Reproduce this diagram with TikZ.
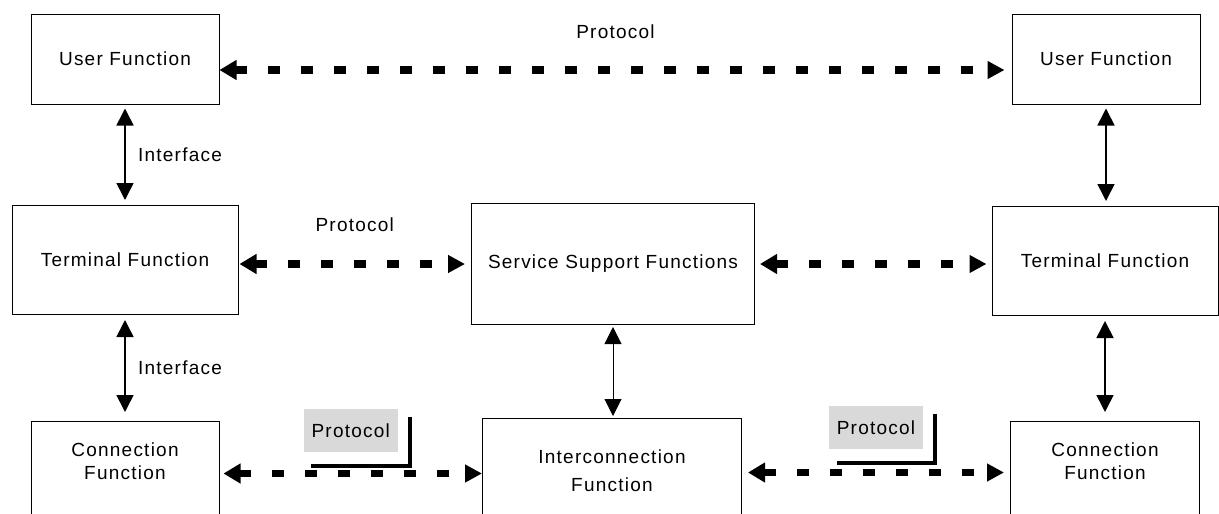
\documentclass[tikz,border=0pt]{standalone}
\usepackage{fontspec}
\setmainfont{Liberation Sans}[LetterSpace=6.5]
\usetikzlibrary{arrows.meta}
\definecolor{labelgray}{gray}{0.85}

\begin{document}
\begin{tikzpicture}[x=1pt,y=-1pt,
    font=\fontsize{19}{23}\selectfont,
    fnbox/.style={draw,line width=1pt,inner sep=0pt,align=center},
    protolink/.style={{Triangle[length=17pt,width=19pt]}-{Triangle[length=17pt,width=17pt]},line width=7.5pt,dash pattern=on 12pt off 21pt},
    iface/.style={{Triangle[length=17pt,width=17pt]}-{Triangle[length=17pt,width=17pt]},line width=1.6pt},
    protobox/.style={fill=labelgray,minimum width=94pt,minimum height=43pt,inner sep=0pt}]
  \useasboundingbox (0,0) rectangle (1219,514);
  \clip (0,0) rectangle (1219,514);

  % function blocks
  \node[fnbox,minimum width=188pt,minimum height=90pt] (ufl) at (125,59) {User Function};
  \node[fnbox,minimum width=188pt,minimum height=90pt] (ufr) at (1106,59) {User Function};
  \node[fnbox,minimum width=226pt,minimum height=109pt] (tfl) at (125,260) {Terminal Function};
  \node[fnbox,minimum width=283pt,minimum height=121pt] (ssf) at (613,264) {Service Support Functions};
  \node[fnbox,minimum width=226pt,minimum height=109pt] (tfr) at (1105,261) {Terminal Function};
  % bottom row runs past the lower edge
  \node[fnbox,minimum width=188pt,minimum height=140pt,anchor=north] (cfl) at (125,421) {};
  \node[fnbox,minimum width=259pt,minimum height=140pt,anchor=north] (icf) at (612,418) {};
  \node[fnbox,minimum width=189pt,minimum height=140pt,anchor=north] (cfr) at (1105,421) {};
  \node[align=center] (cfltxt) at ([yshift=-40pt]cfl.north) {Connection\\Function};
  \node[align=center] (icftxt) at ([yshift=-53pt]icf.north) {Interconnection\\[5pt]Function};
  \node[align=center] (cfrtxt) at ([yshift=-40pt]cfr.north) {Connection\\Function};

  % interfaces
  \draw[iface,shorten <=4pt,shorten >=5pt] (ufl) -- node[right=9pt] (ifu) {Interface} (tfl);
  \draw[iface,shorten <=5pt,shorten >=9pt] (tfl) -- node[right=9pt] (ifc) {Interface} (cfl);
  \draw[iface,shorten <=4pt,shorten >=5pt] (ufr.south) -- (ufr.south |- tfr.north);
  \draw[iface,shorten <=5pt,shorten >=9pt] (tfr.south) -- (tfr.south |- cfr.north);
  \draw[iface,line width=1pt,shorten <=2pt,shorten >=2pt] (ssf.south) -- (ssf.south |- icf.north);

  % protocols
  \coordinate (pu) at ([yshift=-11pt]ufl.east);
  \draw[protolink,shorten >=7pt] (pu) -- node[above=24pt] (ptop) {Protocol} (pu -| ufr.west);
  \draw[protolink,shorten <=1pt,shorten >=6pt] (tfl.east |- ssf.west) -- node[above=25pt] (pmid) {Protocol} (ssf.west);
  \draw[protolink,shorten <=5pt,shorten >=5pt] (ssf.east) -- (ssf.east -| tfr.west);

  \coordinate (pl) at ([yshift=18pt]cfl.east);
  \coordinate (pr) at ([yshift=16pt]icf.east);
  \draw[protolink,shorten <=4pt] (pl) -- node[protobox,above=18pt] (plb) {Protocol} (pl -| icf.west);
  \draw[protolink,shorten <=6pt,shorten >=6pt] (pr) -- node[protobox,above=20pt] (prb) {Protocol} (pr -| cfr.west);
  \draw[line width=4pt] ([xshift=11pt,yshift=-10pt]plb.south west) -| ([xshift=8pt,yshift=-12pt]plb.north east);
  \draw[line width=4pt] ([xshift=12pt,yshift=-10pt]prb.south west) -| ([xshift=8pt,yshift=-12pt]prb.north east);
\end{tikzpicture}
\end{document}
